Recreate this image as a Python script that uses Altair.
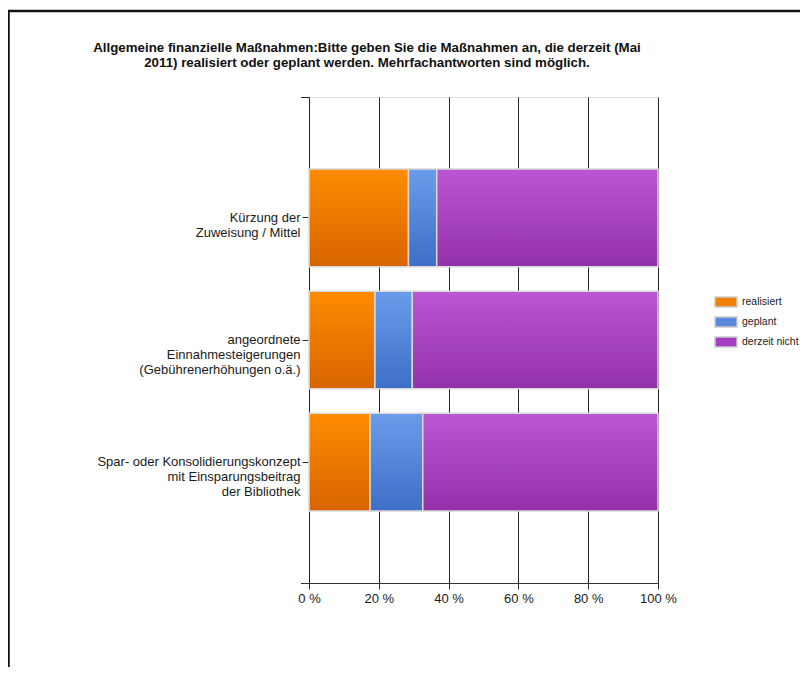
import altair as alt
import pandas as pd

# ---- data ----
categories = [
    "Kürzung der|Zuweisung / Mittel",
    "angeordnete|Einnahmesteigerungen|(Gebührenerhöhungen o.ä.)",
    "Spar- oder Konsolidierungskonzept|mit Einsparungsbeitrag|der Bibliothek",
]
series = ["realisiert", "geplant", "derzeit nicht"]
realisiert = [28.5, 18.9, 17.5]
geplant = [8.1, 10.7, 15.1]
derzeit_nicht = [63.4, 70.4, 67.4]
x_ticks = [0, 20, 40, 60, 80, 100]
title_lines = [
    "Allgemeine finanzielle Maßnahmen:Bitte geben Sie die Maßnahmen an, die derzeit (Mai",
    "2011) realisiert oder geplant werden. Mehrfachantworten sind möglich.",
]

legend_colors = ["#F08000", "#5A88DD", "#A63FC4"]
gradients = {
    "realisiert": ("#FF8C00", "#D86400"),
    "geplant": ("#6A9CEB", "#3E6EC6"),
    "derzeit nicht": ("#BB56D4", "#9331AA"),
}

rows = []
for i, cat in enumerate(categories):
    start = 0.0
    for s, vals in zip(series, [realisiert, geplant, derzeit_nicht]):
        v = vals[i]
        rows.append({"cat": cat, "series": s, "start": start, "end": start + v})
        start += v
df = pd.DataFrame(rows)

W, H = 349, 486
FONT = "Liberation Sans"

y_enc = alt.Y(
    "cat:N",
    sort=categories,
    scale=alt.Scale(paddingInner=0.2, paddingOuter=0.59),
    axis=alt.Axis(
        title=None,
        labelExpr="split(datum.label, '|')",
        labelFont=FONT,
        labelFontSize=13,
        labelLineHeight=15,
        labelColor="#1a1a1a",
        labelPadding=2,
        tickSize=7,
        tickColor="#333333",
        domainColor="#222222",
        labelLimit=300,
    ),
)
x_enc = alt.X(
    "start:Q",
    scale=alt.Scale(domain=[0, 100], nice=False),
    axis=alt.Axis(
        title=None,
        values=x_ticks,
        labelExpr="datum.value + ' %'",
        labelFont=FONT,
        labelFontSize=13,
        labelColor="#1a1a1a",
        labelPadding=3,
        labelFlush=False,
        tickSize=6,
        tickColor="#333333",
        domainColor="#333333",
        grid=True,
        gridColor="#222222",
        gridWidth=1,
    ),
)

base = alt.Chart(df).mark_bar(stroke=None).encode(
    y=y_enc,
    x=x_enc,
    x2="end:Q",
    color=alt.Color(
        "series:N",
        sort=series,
        scale=alt.Scale(domain=series, range=legend_colors),
        legend=alt.Legend(
            title=None,
            orient="none",
            legendX=405,
            legendY=193,
            padding=0,
            rowPadding=0,
            symbolType="M-1,-0.4545H1V0.4545H-1Z",
            symbolSize=484,
            symbolStrokeColor="#cccccc",
            symbolStrokeWidth=1.5,
            labelFont=FONT,
            labelFontSize=10.5,
            labelColor="#1a1a1a",
            labelOffset=4,
        ),
    ),
)

grad_layers = []
for s in series:
    top, bottom = gradients[s]
    grad_layers.append(
        alt.Chart(df)
        .transform_filter(alt.datum.series == s)
        .mark_bar(
            fill=alt.LinearGradient(
                gradient="linear",
                stops=[alt.GradientStop(color=top, offset=0), alt.GradientStop(color=bottom, offset=1)],
                x1=0, x2=0, y1=0, y2=1,
            ),
            stroke="#d9d9d9",
            strokeWidth=1.5,
        )
        .encode(y=alt.Y("cat:N", sort=categories), x="start:Q", x2="end:Q")
    )

one = pd.DataFrame({"k": [0]})
title_mark = alt.Chart(one).mark_text(
    text=title_lines,
    font=FONT,
    fontSize=13.3,
    fontWeight="bold",
    color="#111111",
    align="center",
    baseline="alphabetic",
    lineHeight=15,
).encode(x=alt.value(58), y=alt.value(-45))

tick_top = alt.Chart(one).mark_rule(color="#222222", strokeWidth=1).encode(
    x=alt.value(-8), x2=alt.value(0), y=alt.value(0.5)
)
tick_bottom = alt.Chart(one).mark_rule(color="#333333", strokeWidth=1).encode(
    x=alt.value(-8), x2=alt.value(0), y=alt.value(H + 0.5)
)
frame_left = alt.Chart(one).mark_rule(color="#111111", strokeWidth=2.5).encode(
    x=alt.value(-300.5), y=alt.value(-86), y2=alt.value(H + 200)
)
frame_top = alt.Chart(one).mark_rule(color="#111111", strokeWidth=2.5).encode(
    x=alt.value(-301.5), x2=alt.value(W + 200), y=alt.value(-86)
)

chart = (
    alt.layer(base, *grad_layers, tick_top, tick_bottom, frame_left, frame_top, title_mark)
    .properties(
        width=W,
        height=H,
        autosize=alt.AutoSizeParams(type="none"),
        padding={"left": 301, "top": 89, "right": 142, "bottom": 84},
    )
    .configure_view(stroke=None)
    .configure(background="white")
)

chart.save("out.html", embed_options={"renderer": "svg", "actions": False})
